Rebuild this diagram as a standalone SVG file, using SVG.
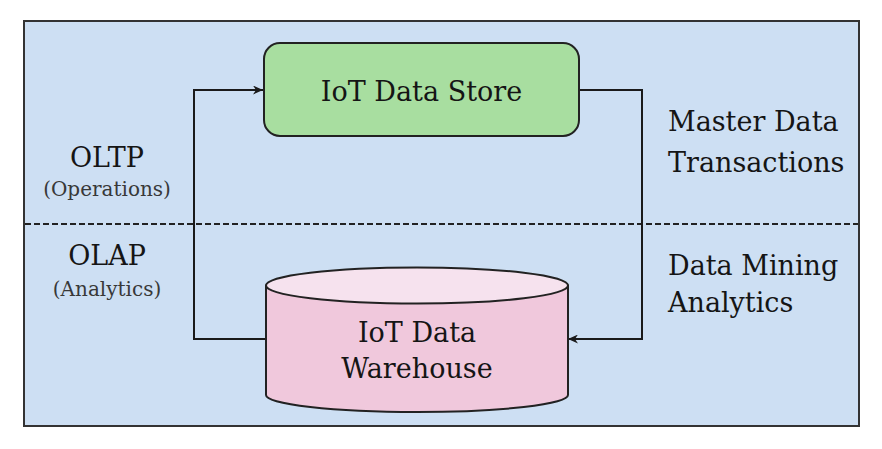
<svg xmlns="http://www.w3.org/2000/svg" width="882" height="449" viewBox="0 0 882 449">
  <style>
    .lbl { font-family: "DejaVu Serif", "Liberation Serif", serif; fill: #151515; }
    .big { font-size: 27px; }
    .small { font-size: 20px; fill: #383838; }
    .conn { fill: none; stroke: #1a1a1a; stroke-width: 2; }
    .node { stroke: #222; stroke-width: 2; }
  </style>
  <defs>
    <marker id="arr" markerUnits="userSpaceOnUse" markerWidth="11" markerHeight="9" refX="10" refY="4.5" orient="auto">
      <path d="M0,0 L10,4.5 L0,9 L3,4.5 z" fill="#1a1a1a"/>
    </marker>
  </defs>
  <rect width="882" height="449" fill="#ffffff"/>
  <g id="panel">
    <rect x="24" y="21" width="835" height="405" fill="#cddff3" stroke="#333" stroke-width="2"/>
    <line x1="25" y1="224" x2="858" y2="224" stroke="#222" stroke-width="2" stroke-dasharray="6,3"/>
  </g>
  <g id="connectors">
    <path class="conn" d="M266,339 H194 V90 H263" marker-end="url(#arr)"/>
    <path class="conn" d="M579,90 H642 V339 H568" marker-end="url(#arr)"/>
  </g>
  <g id="iot-data-store">
    <rect class="node" x="264" y="43" width="315" height="93" rx="16" ry="16" fill="#a8dea0"/>
    <text class="lbl big" x="421.5" y="101" text-anchor="middle">IoT Data Store</text>
  </g>
  <g id="iot-data-warehouse">
    <path class="node" d="M266,285.5 L266,395 A151,17 0 0 0 568,395 L568,285.5 Z" fill="#f0c8dc"/>
    <ellipse class="node" cx="417" cy="285.5" rx="151" ry="18" fill="#f6e2ee"/>
    <text class="lbl big" x="417" y="342" text-anchor="middle">IoT Data</text>
    <text class="lbl big" x="417" y="378" text-anchor="middle">Warehouse</text>
  </g>
  <g id="oltp-label">
    <text class="lbl big" x="107" y="167" text-anchor="middle">OLTP</text>
    <text class="lbl small" x="107" y="196" text-anchor="middle">(Operations)</text>
  </g>
  <g id="olap-label">
    <text class="lbl big" x="107" y="265" text-anchor="middle">OLAP</text>
    <text class="lbl small" x="107" y="296" text-anchor="middle">(Analytics)</text>
  </g>
  <g id="master-label">
    <text class="lbl big" x="668" y="131">Master Data</text>
    <text class="lbl big" x="668" y="172">Transactions</text>
  </g>
  <g id="mining-label">
    <text class="lbl big" x="668" y="275">Data Mining</text>
    <text class="lbl big" x="668" y="312">Analytics</text>
  </g>
</svg>
